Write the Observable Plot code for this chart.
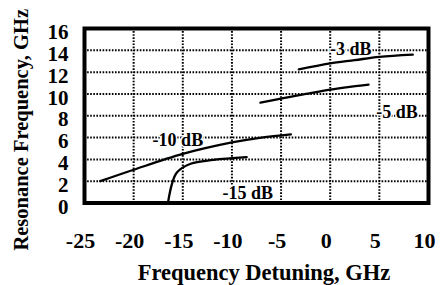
<!DOCTYPE html>
<html>
<head>
<meta charset="utf-8">
<script src="https://cdn.jsdelivr.net/npm/d3@7"></script>
<script src="https://cdn.jsdelivr.net/npm/@observablehq/plot@0.6"></script>
<style>
  html, body { margin: 0; padding: 0; background: #fff; }
  #chart svg { display: block; }
</style>
</head>
<body>
<div id="chart"></div>
<script>
// Tick values
const xTicks = [-25, -20, -15, -10, -5, 0, 5, 10];
const yTicks = [0, 2, 4, 6, 8, 10, 12, 14, 16];
const xGrid = [-20, -15, -10, -5, 0, 5];
const yGrid = [2, 4, 6, 8, 10, 12, 14];

// Curves (detuning GHz, resonance GHz)
const curve3dB_x = [-3.2, -1.5, 0, 2.5, 5, 8.4];
const curve3dB_y = [12.25, 12.55, 12.8, 13.1, 13.4, 13.6];
const curve5dB_x = [-7.1, -4.9, -2.5, 0, 2, 3.9];
const curve5dB_y = [9.2, 9.6, 10.0, 10.4, 10.65, 10.85];
const curve10dB_x = [-23.4, -20, -15, -10, -7, -4];
const curve10dB_y = [2.0, 3.05, 4.5, 5.55, 6.0, 6.3];
const curve15dB_x = [-16.5, -16.1, -15.6, -14.2, -11.9, -8.5];
const curve15dB_y = [0.05, 1.75, 2.8, 3.6, 3.95, 4.2];

// Curve labels
const labelText = ["-3 dB", "-5 dB", "-10 dB", "-15 dB"];
const labelX = [2.1, 6.8, -15.5, -8.4];
const labelY = [14.1, 8.3, 5.8, 0.85];

const xTitle = "Frequency Detuning, GHz";
const yTitle = "Resonance Frequency, GHz";

const toPts = (xs, ys) => xs.map((x, i) => ({x, y: ys[i]}));
const curves = [
  toPts(curve3dB_x, curve3dB_y),
  toPts(curve5dB_x, curve5dB_y),
  toPts(curve10dB_x, curve10dB_y),
  toPts(curve15dB_x, curve15dB_y)
];
const labels = labelText.map((t, i) => ({t, x: labelX[i], y: labelY[i]}));

const font = "'Liberation Serif', 'Times New Roman', serif";

const chart = Plot.plot({
  width: 442,
  height: 285,
  marginTop: 28,
  marginRight: 14,
  marginBottom: 82.5,
  marginLeft: 84,
  style: {fontFamily: font, fontWeight: "bold", background: "#fff", color: "#000"},
  x: {domain: [-25, 10], axis: null},
  y: {domain: [0, 16], axis: null},
  marks: [
    Plot.ruleX(xGrid, {x: d => d, stroke: "#000", strokeWidth: 2, strokeDasharray: "1.6,1.5"}),
    Plot.ruleY(yGrid, {y: d => d, stroke: "#000", strokeWidth: 2, strokeDasharray: "1.6,1.5"}),
    ...curves.map(c => Plot.line(c, {x: "x", y: "y", stroke: "#000", strokeWidth: 2.3, curve: "catmull-rom"})),
    Plot.text(labels, {x: "x", y: "y", text: "t", fontSize: 18, fontWeight: "bold", fontFamily: font, fill: "#000", stroke: "#fff", strokeWidth: 3}),
    Plot.frame({stroke: "#000", strokeWidth: 4}),
    Plot.text(yTicks, {y: d => d, text: d => String(d), frameAnchor: "left", textAnchor: "end", lineAnchor: "middle", dx: -16, dy: 4, fontSize: 21, fontWeight: "bold", fontFamily: font, fill: "#000"}),
    Plot.text(xTicks, {x: d => d, text: d => String(d), frameAnchor: "bottom", textAnchor: "middle", lineAnchor: "middle", dx: -4, dy: 38, fontSize: 22, fontWeight: "bold", fontFamily: font, fill: "#000"}),
    Plot.text([xTitle], {text: d => d, frameAnchor: "bottom", textAnchor: "middle", lineAnchor: "middle", dx: 7.5, dy: 70, fontSize: 22.5, fontWeight: "bold", fontFamily: font, fill: "#000"}),
    Plot.text([yTitle], {text: d => d, frameAnchor: "left", textAnchor: "middle", lineAnchor: "middle", rotate: -90, dx: -63.5, dy: 14, fontSize: 20.5, fontWeight: "bold", fontFamily: font, fill: "#000"})
  ]
});
document.getElementById("chart").appendChild(chart);
</script>
</body>
</html>
